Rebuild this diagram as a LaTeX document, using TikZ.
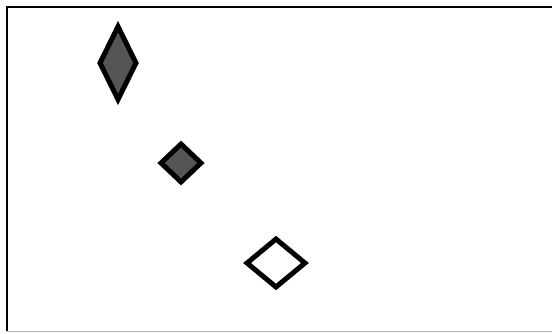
\documentclass[tikz,border=0pt]{standalone}
\usepackage{tikz}
\usetikzlibrary{shapes.geometric}
\usepackage{xcolor}

\definecolor{darkfill}{HTML}{555555}

\begin{document}
\begin{tikzpicture}[
                  x=1pt, y=-1pt,
                  gem/.style={draw, diamond, line width=5pt, inner sep=0pt,
                              line join=miter},
                  dark/.style={fill=darkfill},
                  hollow/.style={fill=white},
            ]
            \useasboundingbox (0,0) rectangle (552,333);
            % frame
            \draw[line width=2.5pt] (7,331) -- (7,7) -- (560,7);
            \draw[gray!60, line width=1pt] (7,331) -- (560,331);
            % shapes
            \node[gem, dark, minimum width=38pt, minimum height=75pt] (tall) at (118,63) {};
            \node[gem, dark, minimum width=42pt, minimum height=40pt] (small) at (181,163) {};
            \node[gem, hollow, minimum width=60pt, minimum height=50pt] (open) at (276,263) {};
      \end{tikzpicture}
\end{document}
